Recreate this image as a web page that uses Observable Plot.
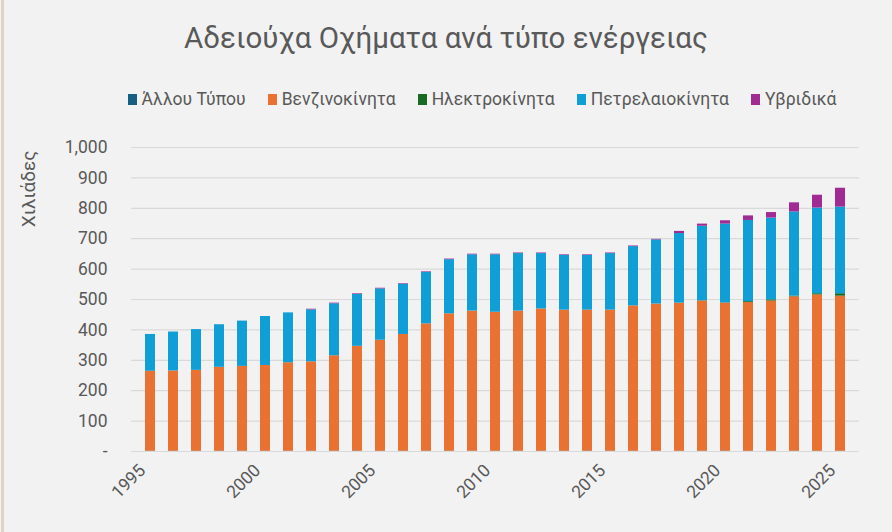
<!DOCTYPE html>
<html>
<head>
<meta charset="utf-8">
<script src="https://cdn.jsdelivr.net/npm/d3@7"></script>
<script src="https://cdn.jsdelivr.net/npm/@observablehq/plot@0.6"></script>
<style>
  html, body { margin: 0; padding: 0; background: #f2f2f2; }
  #chart { position: relative; width: 892px; height: 532px; background: #f2f2f2; overflow: hidden;
           font-family: Roboto, "Noto Sans", sans-serif; color: #595959; }
  #edge { position: absolute; left: 1px; top: 0; width: 3px; height: 532px; background: #ddd4c5; }
  #title { position: absolute; top: 15px; left: 0; width: 892px; text-align: center;
           font-size: 29.5px; line-height: 46px; }
  #legend { position: absolute; top: 88px; left: 36px; width: 892px; display: flex; justify-content: center;
            gap: 22px; font-size: 17.5px; line-height: 22px; }
  #legend .item { display: flex; align-items: center; gap: 5px; }
  #legend .sw { width: 9px; height: 11px; display: inline-block; }
  #plot { position: absolute; top: 120px; left: 0; }
</style>
</head>
<body>
<div id="chart">
  <div id="edge"></div>
  <div id="title">Αδειούχα Οχήματα ανά τύπο ενέργειας</div>
  <div id="legend"></div>
  <div id="plot"></div>
</div>
<script>
// Licensed vehicles per energy type, thousands, 1995–2025
const years = [1995, 1996, 1997, 1998, 1999, 2000, 2001, 2002, 2003, 2004, 2005, 2006, 2007, 2008, 2009, 2010,
               2011, 2012, 2013, 2014, 2015, 2016, 2017, 2018, 2019, 2020, 2021, 2022, 2023, 2024, 2025];
const other    = [1, 1, 1, 1, 1, 1, 1, 1, 1, 1, 1, 1, 1, 1, 1, 1, 1, 1, 1, 1, 1, 1, 1, 1, 1, 1, 1, 1, 1, 1, 1];
const petrol   = [263, 264, 266, 276, 279, 282, 291, 294, 314, 345, 365, 384, 419, 452, 461, 457,
                  461, 468, 464, 464, 464, 478, 484, 487, 494, 487, 489, 494, 508, 514, 510];
const electric = [0, 0, 0, 0, 0, 0, 0, 0, 0, 0, 0, 0, 0, 0, 0, 0, 0, 0, 0, 0, 0, 0, 0, 0, 1, 1, 3, 4, 2, 4, 8];
const diesel   = [121, 128, 134, 140, 149, 161, 164, 171, 171, 171, 169, 165, 169, 178, 185, 189,
                  189, 182, 180, 180, 186, 195, 211, 229, 245, 259, 267, 269, 277, 282, 285];
const hybrid   = [0, 0, 0, 0, 0, 0, 0, 2, 2, 2, 2, 2, 2, 2, 2, 2, 2, 2, 2, 2, 2, 2, 2, 7, 7, 11, 15, 18, 30, 42, 62];

const seriesNames  = ["Άλλου Τύπου", "Βενζινοκίνητα", "Ηλεκτροκίνητα", "Πετρελαιοκίνητα", "Υβριδικά"];
const seriesColors = ["#156082", "#E97132", "#196B24", "#0F9ED5", "#A02B93"];
const yTicks = [0, 100, 200, 300, 400, 500, 600, 700, 800, 900, 1000];
const xTickYears = [1995, 2000, 2005, 2010, 2015, 2020, 2025];

// long table, stacked bottom-to-top in legend order
const seriesValues = [other, petrol, electric, diesel, hybrid];
const rows = [];
seriesNames.forEach((name, s) => {
  years.forEach((year, i) => rows.push({year, type: name, value: seriesValues[s][i]}));
});

// legend
const legend = document.getElementById("legend");
seriesNames.forEach((name, i) => {
  const item = document.createElement("span");
  item.className = "item";
  item.innerHTML = `<span class="sw" style="background:${seriesColors[i]}"></span><span>${name}</span>`;
  legend.appendChild(item);
});

const fmt = d3.format(",");
const chart = Plot.plot({
  width: 892,
  height: 412,
  marginTop: 27,
  marginBottom: 81,
  marginLeft: 131,
  marginRight: 33,
  style: {background: "transparent", fontFamily: "Roboto, 'Noto Sans', sans-serif", color: "#595959"},
  x: {type: "band", domain: years, padding: 0.58, label: null},
  y: {domain: [0, 1000], label: null},
  color: {domain: seriesNames, range: seriesColors},
  marks: [
    Plot.gridY(yTicks, {stroke: "#d9d9d9", strokeOpacity: 1, strokeWidth: 1.2}),
    Plot.barY(rows, {x: "year", y: "value", fill: "type", order: seriesNames}),
    Plot.axisY(yTicks, {tickSize: 0, tickPadding: 24, fontSize: 17.5, fill: "#595959",
      tickFormat: d => d === 0 ? "-" : fmt(d), label: null}),
    Plot.axisX(xTickYears, {tickSize: 0, tickRotate: -45, fontSize: 17.5, fill: "#595959",
      tickFormat: d => String(d), label: null, tickPadding: 10, dx: -8, dy: 6}),
    Plot.text(["Χιλιάδες"], {frameAnchor: "top-left", rotate: -90, textAnchor: "end", lineAnchor: "top",
      dx: -110, dy: 3, fontSize: 19, fill: "#595959"})
  ]
});
document.getElementById("plot").appendChild(chart);
</script>
</body>
</html>
